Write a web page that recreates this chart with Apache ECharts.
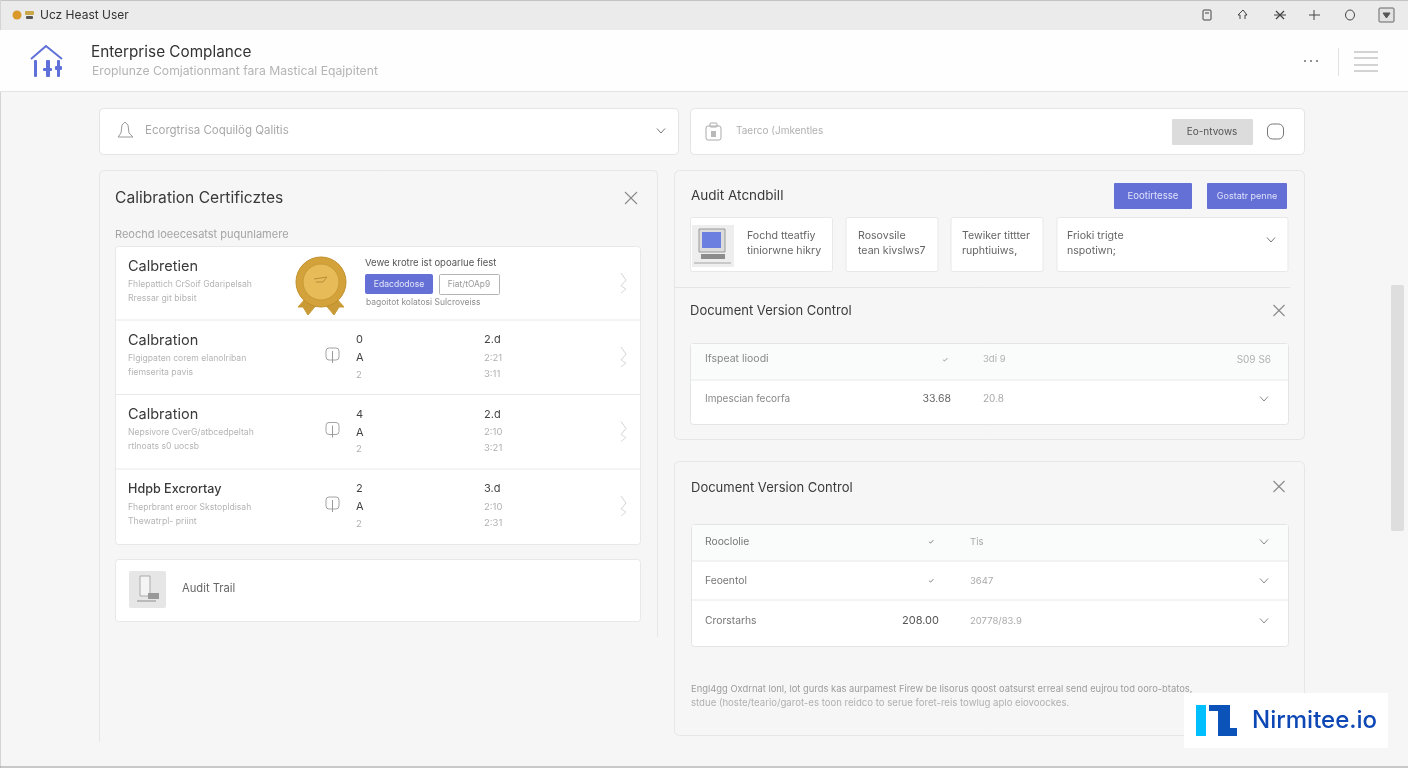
<!DOCTYPE html>
<html>
<head>
<meta charset="utf-8">
<style>html,body{margin:0;padding:0;background:#f6f6f6}#main{width:1408px;height:768px}</style>
<script src="https://cdn.jsdelivr.net/npm/echarts@6/dist/echarts.min.js"></script>
</head>
<body>
<div id="main"></div>
<script>
// texts
var topBarTitle = 'Ucz Heast User';
var headerTitle = 'Enterprise Complance';
var headerSub = 'Eroplunze Comjationmant fara Mastical Eqajpitent';
var searchLeft = 'Ecorgtrisa Coquilög Qalitis';
var searchRight = 'Taerco (Jmkentles';
var searchBtn = 'Eo-ntvows';
var leftTitle = 'Calibration Certificztes';
var leftSub = 'Reochd loeecesatst puqunlamere';
var rowTitles = ['Calbretien', 'Calbration', 'Calbration', 'Hdpb Excrortay'];
var rowSub1 = ['Fhlepattich CrSoif Gdaripelsah', 'Flgigpaten corem elanolriban', 'Nepsivore CverG/atbcedpeltah', 'Fheprbrant eroor Skstopldisah'];
var rowSub2 = ['Rressar git bibsit', 'fiemserita pavis', 'rtlnoats s0 uocsb', 'Thewatrpl- priint'];
var rowCol1 = [null, ['0', 'A', '2'], ['4', 'A', '2'], ['2', 'A', '2']];
var rowCol2 = [null, ['2.d', '2:21', '3:11'], ['2.d', '2:10', '3:21'], ['3.d', '2:10', '2:31']];
var certNote = 'Vewe krotre ist opoarlue fiest';
var certBtns = ['Edacdodose', 'Fiat/tOAp9'];
var certFoot = 'bagoitot kolatosi Sulcroveiss';
var trailLabel = 'Audit Trail';
var auditTitle = 'Audit Atcndbill';
var auditBtns = ['Eootirtesse', 'Gostatr penne'];
var auditCards = [['Fochd tteatfiy', 'tiniorwne hikry'], ['Rosovsile', 'tean kivslws7'], ['Tewiker tittter', 'ruphtiuiws,'], ['Frioki trigte', 'nspotiwn;']];
var versionTitle = 'Document Version Control';
var table1 = [['Ifspeat lioodi', '\u2713', '3di 9', 'S09 S6'], ['Impescian fecorfa', '33.68', '20.8', '']];
var table2 = [['Rooclolie', '\u2713', 'Tis'], ['Feoentol', '\u2713', '3647'], ['Crorstarhs', '208.00', '20778/83.9']];
var footLines = ['Engl4gg Oxdrnat lonl, lot gurds kas aurpamest Firew be lisorus qoost oatsurst erreal send eujrou tod ooro-btatos,', 'stdue (hoste/teario/garot-es toon reidco to serue foret-reis towlug aplo eiovoockes.'];
var logoText = 'Nirmitee.io';

var FONT = 'Inter, "Noto Sans", sans-serif';
var els = [];

function box(x, y, w, h, fill, stroke, r) {
  els.push({ type: 'rect', shape: { x: x, y: y, width: w, height: h, r: r || 0 }, style: { fill: fill, stroke: stroke || null, lineWidth: stroke ? 1 : 0 } });
}
function txt(x, y, s, size, color, weight, align) {
  els.push({ type: 'text', style: { x: x, y: y, text: s, fill: color, font: (weight || 400) + ' ' + size + 'px ' + FONT, textAlign: align || 'left', textVerticalAlign: 'middle' } });
}
function path(pts, color, lw, fill) {
  els.push({ type: fill ? 'polygon' : 'polyline', shape: { points: pts }, style: { fill: fill || null, stroke: color, lineWidth: lw || 1 } });
}
function hline(x1, x2, y, color) { path([[x1, y], [x2, y]], color, 1); }
function vline(x, y1, y2, color) { path([[x, y1], [x, y2]], color, 1); }
function cross(cx, cy, r, color) {
  path([[cx - r, cy - r], [cx + r, cy + r]], color, 1.1);
  path([[cx - r, cy + r], [cx + r, cy - r]], color, 1.1);
}
function chevDown(cx, cy, color) { path([[cx - 4, cy - 2.5], [cx, cy + 2], [cx + 4, cy - 2.5]], color, 1); }
function chevRight(cx, cy) {
  path([[cx - 3, cy - 10], [cx + 2, cy - 3], [cx - 3, cy + 3]], '#d4d4d4', 1);
  path([[cx - 3, cy + 3], [cx + 2, cy + 6], [cx - 3, cy + 10]], '#dadada', 1);
}

// page chrome
box(0, 0, 1408, 768, '#f6f6f6');
box(0, 0, 1408, 30, '#ebebeb');
hline(0, 1408, 0.5, '#c4c4c4');
vline(0.5, 0, 768, '#d4d4d4');
hline(0, 1408, 767, '#9a9a9a');
box(0, 30, 1408, 61, '#fefefe');
hline(0, 1408, 91.5, '#e4e4e4');
els.push({ type: 'circle', shape: { cx: 17, cy: 15, r: 4.5 }, style: { fill: '#d99a2b' } });
box(25, 11, 9, 4, '#c9a84a', null, 1);
box(26, 16, 7, 3, '#555555', null, 1);
txt(40, 15, topBarTitle, 12, '#333333');

// top right icons
box(1203, 10, 8, 10, 'none', '#444444', 1);
hline(1205, 1209, 13, '#444444');
path([[1240, 19], [1240, 15], [1238, 15], [1243, 10], [1247, 15], [1245, 15], [1245, 19]], '#444444', 1);
path([[1276, 11], [1284, 19]], '#444444', 1.2);
path([[1276, 19], [1284, 11]], '#444444', 1.2);
hline(1274, 1286, 15, '#444444');
hline(1309, 1320, 15, '#444444');
vline(1314, 10, 20, '#444444');
els.push({ type: 'ellipse', shape: { cx: 1350, cy: 15, rx: 4.5, ry: 5 }, style: { fill: 'none', stroke: '#444444', lineWidth: 1 } });
box(1379, 8, 15, 14, '#e2e2e2', '#666666', 1);
path([[1383, 13], [1390, 13], [1386.5, 18]], '#555555', 1, '#555555');

// header
var PURPLE = '#6570d6';
path([[31, 59], [46, 46], [62, 59]], '#5f70d8', 2);
box(34, 60, 3, 17, '#5f70d8', null, 1);
box(46, 60, 4, 17, '#5f70d8', null, 1);
box(43, 68, 9, 3, '#5f70d8', null, 1);
box(57, 60, 3, 17, '#5f70d8', null, 1);
box(55, 66, 7, 4, '#5f70d8', null, 1);
txt(91, 52, headerTitle, 15.3, '#333333');
txt(92, 71, headerSub, 12.2, '#b4b4b4');
[1305, 1311, 1317].forEach(function (x) { els.push({ type: 'circle', shape: { cx: x, cy: 61, r: 1.1 }, style: { fill: '#777777' } }); });
vline(1338.5, 48, 76, '#e2e2e2');
[52, 58, 65, 71].forEach(function (y) { hline(1354, 1378, y, '#a8a8a8'); });

// search bars
box(99.5, 108.5, 579, 46, '#ffffff', '#e4e4e4', 4);
path([[118, 137], [121, 133], [122, 125], [125, 122], [128, 125], [129, 133], [133, 137], [118, 137]], '#9a9a9a', 1);
txt(145, 131, searchLeft, 11.5, '#a8a8a8');
chevDown(661, 131, '#777777');
box(690.5, 108.5, 614, 46, '#ffffff', '#e4e4e4', 4);
box(706, 126, 15, 14, 'none', '#aaaaaa', 2);
box(710, 123, 7, 4, 'none', '#aaaaaa', 1);
box(711, 131, 5, 6, '#b8b8b8');
txt(736, 131, searchRight, 10, '#b0b0b0');
box(1172, 119, 81, 26, '#dcdcdc', null, 1);
txt(1212, 132, searchBtn, 10, '#555555', 400, 'center');
box(1267.5, 124, 16, 15, 'none', '#777777', 5);

// left panel: only the upper part of its right side is drawn, the bottom is open
box(99.5, 170.5, 558, 585, '#f6f6f6', '#e6e6e6', 4);
box(650, 637, 12, 125, '#f6f6f6');
box(95, 742, 570, 20, '#f6f6f6');
txt(115, 198, leftTitle, 15.6, '#3a3a3a');
cross(631, 198, 6, '#8a8a8a');
txt(115, 235, leftSub, 11, '#a4a4a4');
box(115.5, 246.5, 525, 298, '#ffffff', '#e8e8e8', 3);
[320, 394.5, 469].forEach(function (y) { hline(116, 640, y, '#e8e8e8'); });

var rowTop = [246, 320, 394.5, 469];
rowTitles.forEach(function (title, i) {
  var y = rowTop[i];
  txt(128, y + 20.5, title, i === 3 ? 12.6 : 14.5, '#3a3a3a', i === 3 ? 500 : 400);
  txt(128, y + 38, rowSub1[i], 8.6, '#b4b4b4');
  txt(128, y + 52, rowSub2[i], 8.7, '#b4b4b4');
  chevRight(624, y + 37);
  if (!rowCol1[i]) return;
  box(326, y + 28, 13, 12, '#ffffff', '#a4a4a4', 3);
  vline(332.5, y + 31, y + 43, '#999999');
  var offs = [20, 38, 55];
  rowCol1[i].forEach(function (s, k) { txt(356, y + offs[k], s, k === 2 ? 9.5 : 11, k === 2 ? '#b0b0b0' : '#444444', 400, 'left'); });
  rowCol2[i].forEach(function (s, k) { txt(484, y + offs[k] - (k === 2 ? 1 : 0), s, k === 0 ? 11 : 9.5, k === 0 ? '#444444' : '#b0b0b0'); });
});

// seal in the first row
path([[306, 298], [298, 307], [303, 307], [308, 315], [318, 303]], '#c99a35', 1, '#c99a35');
path([[336, 298], [344, 307], [339, 307], [334, 315], [324, 303]], '#c99a35', 1, '#c99a35');
els.push({ type: 'circle', shape: { cx: 321, cy: 282, r: 25 }, style: { fill: '#d3a23a', stroke: '#c08f2c', lineWidth: 1 } });
els.push({ type: 'circle', shape: { cx: 321, cy: 282, r: 18 }, style: { fill: '#e6bb58', stroke: '#c99a35', lineWidth: 1 } });
path([[314, 279], [327, 277], [323, 282], [316, 282]], '#b98d35', 1);
txt(365, 263, certNote, 9.5, '#555555');
box(365, 274, 68, 20, PURPLE, null, 2);
txt(399, 284, certBtns[0], 8.6, '#e4e6fa', 400, 'center');
box(439.5, 274.5, 60, 20, '#ffffff', '#b4b4b4', 1);
txt(469, 284, certBtns[1], 8.4, '#999999', 400, 'center');
txt(366, 302, certFoot, 8.5, '#8e8e8e');

// audit trail card
box(115.5, 559.5, 525, 62, '#ffffff', '#e8e8e8', 3);
box(129, 571, 37, 37, '#e6e6e6', null, 2);
box(140, 576, 10, 20, '#f4f4f4', '#aaaaaa');
box(148, 593, 11, 6, '#999999');
hline(137, 156, 601, '#8e8e8e');
txt(182, 589, trailLabel, 11.2, '#666666');

// right panel 1
box(674.5, 170.5, 630, 269, '#f6f6f6', '#e6e6e6', 5);
txt(691, 196, auditTitle, 13.5, '#3a3a3a');
box(1114, 183, 78, 26, PURPLE, null, 1);
txt(1153, 196, auditBtns[0], 9.6, '#dfe2fa', 400, 'center');
box(1207, 183, 80, 26, PURPLE, null, 1);
txt(1247, 196, auditBtns[1], 9, '#dfe2fa', 400, 'center');
var cardX = [690.5, 846, 951, 1057];
var cardW = [142, 92, 92, 231];
var cardTextX = [747, 858, 962, 1067];
auditCards.forEach(function (lines, i) {
  box(cardX[i], 217.5, cardW[i], 54, '#ffffff', '#e8e8e8', 2);
  txt(cardTextX[i], 236, lines[0], 10.6, '#666666');
  txt(cardTextX[i], 251, lines[1], 10.6, '#666666');
});
// little computer in the first card
box(692, 225, 42, 42, '#eeeeee');
box(699, 229, 26, 23, '#dcdcdc', '#999999');
box(702, 232, 19, 16, '#6a7fe0');
box(701, 254, 24, 5, '#8c8c8c');
hline(694, 731, 263, '#a4a4a4');
chevDown(1271, 240, '#777777');
hline(675, 1290, 287.5, '#e4e4e4');

txt(690, 311, versionTitle, 13, '#3a3a3a');
cross(1279, 310.5, 5.5, '#888888');
box(690.5, 343.5, 598, 81, '#ffffff', '#e4e4e4', 3);
box(691, 344, 597, 36, '#fafbfb');
hline(691, 1288, 380, '#e8e8e8');
txt(705, 359, table1[0][0], 10.5, '#888888');
txt(945, 360, table1[0][1], 7, '#888888', 400, 'center');
txt(983, 359, table1[0][2], 9.5, '#b0b0b0');
txt(1271, 360, table1[0][3], 10, '#b0b0b0', 400, 'right');
txt(705, 399, table1[1][0], 10, '#888888');
txt(951, 399, table1[1][1], 10.5, '#666666', 400, 'right');
txt(983, 399, table1[1][2], 10, '#aaaaaa');
chevDown(1264, 399, '#888888');

// right panel 2
box(674.5, 461.5, 630, 274, '#f6f6f6', '#e6e6e6', 5);
txt(691, 488, versionTitle, 13, '#3a3a3a');
cross(1279, 486.5, 5.5, '#888888');
box(691.5, 524.5, 597, 122, '#ffffff', '#e4e4e4', 3);
box(692, 525, 596, 36, '#fafbfb');
hline(692, 1288, 561, '#e8e8e8');
hline(692, 1288, 600, '#e8e8e8');
var t2y = [542, 581, 621];
table2.forEach(function (row, i) {
  txt(705, t2y[i], row[0], 10.3, '#777777');
  if (i < 2) txt(931, t2y[i], row[1], 7, '#666666', 400, 'center');
  else txt(939, t2y[i], row[1], 11, '#555555', 400, 'right');
  txt(970, t2y[i], row[2], 9.5, '#aaaaaa');
  chevDown(1264, t2y[i], '#888888');
});
txt(691, 689, footLines[0], 9.4, '#9c9c9c');
txt(691, 703, footLines[1], 9.6, '#b0b0b0');

// scrollbar
box(1391, 285, 13, 246, '#dedede', null, 2);

// logo badge
box(1184, 693, 204, 55, '#ffffff');
box(1196, 705, 10, 31, '#00bfff');
box(1209, 705, 21, 6, '#0b53b8');
box(1218, 705, 12, 31, '#0b53b8');
box(1218, 728, 19, 8, '#0b53b8');
txt(1252, 721, logoText, 24, '#0d47b5', 500);

var chart = echarts.init(document.getElementById('main'));
chart.setOption({ animation: false, graphic: { elements: els } });
</script>
</body>
</html>
